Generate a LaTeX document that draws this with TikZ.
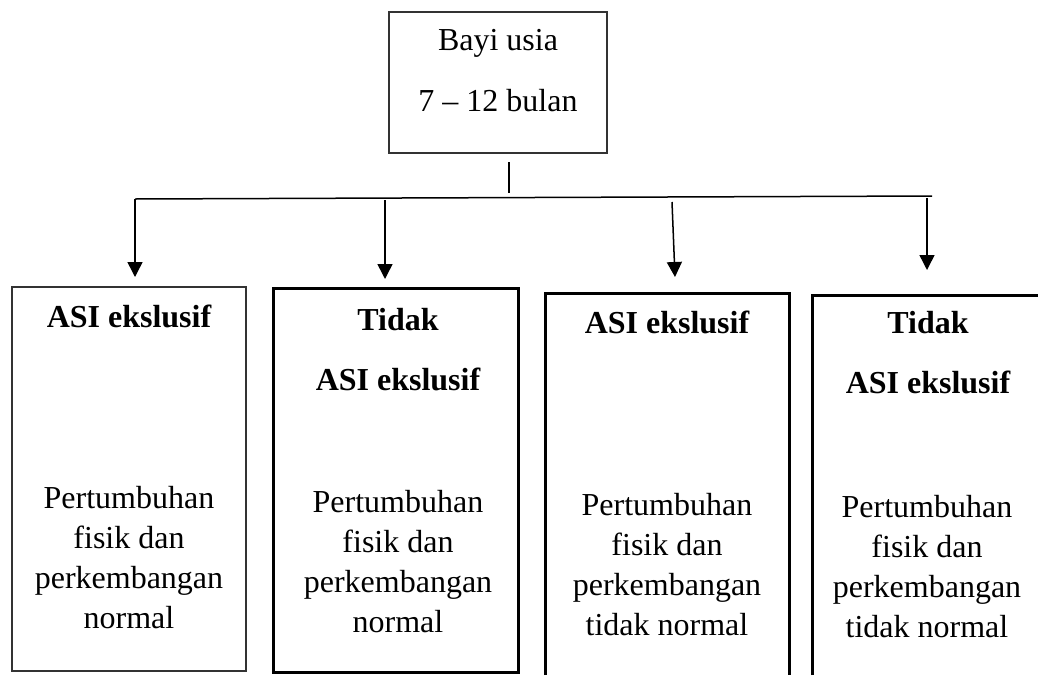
\documentclass[tikz,border=0pt]{standalone}
\usepackage{fontspec}
\setmainfont{Liberation Serif}
\usetikzlibrary{positioning,arrows.meta}

\begin{document}
\begin{tikzpicture}[x=0.5pt, y=-0.5pt,
    every node/.style={inner sep=0pt, align=center, font=\fontsize{16}{20}\selectfont},
    head/.style={font=\bfseries\fontsize{16}{30}\selectfont},
    thinbox/.style={draw=black!80, line width=0.6pt},
    thickbox/.style={draw=black, line width=1.5pt},
    arr/.style={-{Triangle[length=7.5pt,width=7.5pt]}, line width=0.75pt}]
    \useasboundingbox (0,0) rectangle (1038,675);

    % top box (base = last line)
    \node[thinbox, minimum width=109pt, minimum height=70.5pt] (bayi) at (498,82.5) {};
    \node[anchor=base, font=\fontsize{16}{30.5}\selectfont] (bayitxt) at (498,111) {Bayi usia\\7 -- 12 bulan};

    % boxes
    \node[thinbox, minimum width=117pt, minimum height=192pt] (asiA) at (129,479) {};
    \node[thickbox, minimum width=122.5pt, minimum height=192pt] (tidakA) at (395.5,480) {};
    \draw[thickbox] (545,675) |- (789,293) -- (789,675);
    \draw[thickbox] (812,675) |- (1038,295);

    \node[head, anchor=base] (hA) at (129,327) {ASI ekslusif};
    \node[anchor=base] (bA) at (129,628) {Pertumbuhan\\fisik dan\\perkembangan\\normal};
    \node[head, anchor=base] (hB) at (398,390) {Tidak\\ASI ekslusif};
    \node[anchor=base] (bB) at (398,632) {Pertumbuhan\\fisik dan\\perkembangan\\normal};
    \node[head, anchor=base] (hC) at (667,333) {ASI ekslusif};
    \node[anchor=base] (bC) at (667,635) {Pertumbuhan\\fisik dan\\perkembangan\\tidak normal};
    \node[head, anchor=base] (hD) at (928,393) {Tidak\\ASI ekslusif};
    \node[anchor=base] (bD) at (927,637) {Pertumbuhan\\fisik dan\\perkembangan\\tidak normal};

    % connectors
    \coordinate (stem) at (509,162);
    \coordinate (stemend) at (509,193);
    \coordinate (busL) at (135,199);
    \coordinate (busR) at (932,196);
    \coordinate (tipA) at (135,277);
    \coordinate (startB) at (385,200);
    \coordinate (tipB) at (385,279);
    \coordinate (startC) at (672,202);
    \coordinate (tipC) at (675,277);
    \coordinate (startD) at (927,198);
    \coordinate (tipD) at (927,270);

    \draw[line width=0.75pt] (stem) -- (stemend);
    \draw[line width=0.75pt] (busL) -- (busR);
    \draw[arr] (busL) -- (tipA);
    \draw[arr] (startB) -- (tipB);
    \draw[arr] (startC) -- (tipC);
    \draw[arr] (startD) -- (tipD);
\end{tikzpicture}
\end{document}
